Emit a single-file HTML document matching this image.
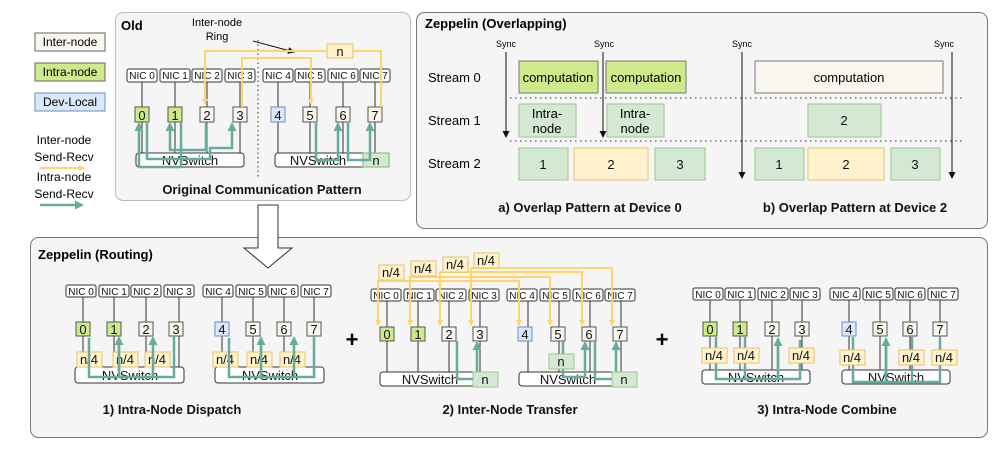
<!DOCTYPE html>
<html><head><meta charset="utf-8"><style>
body{margin:0;background:#fff;}
svg{display:block;font-family:"Liberation Sans",sans-serif;}
.nic{fill:#fff;stroke:#333;stroke-width:1;}
.nt{font-size:10px;text-anchor:middle;fill:#111;}
.g{stroke:#555;stroke-width:1;fill:#f9f7ed;}
.gt{font-size:13px;text-anchor:middle;fill:#111;}
.w{stroke:#333;stroke-width:1;fill:none;}
.y{stroke:#fdd56b;stroke-width:2;fill:none;}
.t{stroke:#67ab9f;stroke-width:2.5;fill:none;}
.yb{fill:#fff2cc;stroke:#e8c46a;}
.gb{fill:#d5e8d4;stroke:#9cc78d;}
.cap{font-size:13px;font-weight:bold;text-anchor:middle;fill:#111;}
.sw{fill:#fff;stroke:#333;}
.swt{font-size:13px;text-anchor:middle;fill:#111;}
</style></head><body>
<svg width="997" height="449" viewBox="0 0 997 449">
<defs>
<marker id="ay" markerWidth="6" markerHeight="6" refX="5" refY="3" orient="auto" markerUnits="userSpaceOnUse"><path d="M0,0 L6,3 L0,6 z" fill="#fdd56b"/></marker>
<marker id="at" markerWidth="9" markerHeight="9" refX="7" refY="4.5" orient="auto" markerUnits="userSpaceOnUse"><path d="M0,0 L9,4.5 L0,9 z" fill="#67ab9f"/></marker>
<marker id="ak" markerWidth="7" markerHeight="7" refX="6" refY="3.5" orient="auto" markerUnits="userSpaceOnUse"><path d="M0,0 L7,3.5 L0,7 z" fill="#111"/></marker>
</defs>

<!-- legend -->
<rect x="35" y="33" width="70" height="18" fill="#f9f7ed" stroke="#666"/><text x="70" y="46" font-size="12" text-anchor="middle">Inter-node</text>
<rect x="35" y="63" width="70" height="18" fill="#cdeb8b" stroke="#666"/><text x="70" y="76" font-size="12" text-anchor="middle">Intra-node</text>
<rect x="35" y="93" width="70" height="18" fill="#dae8fc" stroke="#6c8ebf"/><text x="70" y="106" font-size="12" text-anchor="middle">Dev-Local</text>
<text x="64" y="144" font-size="12" text-anchor="middle">Inter-node</text>
<text x="64" y="161" font-size="12" text-anchor="middle">Send-Recv</text>
<line x1="40" y1="168" x2="84" y2="168" class="y" marker-end="url(#ay)"/>
<text x="64" y="181" font-size="12" text-anchor="middle">Intra-node</text>
<text x="64" y="198" font-size="12" text-anchor="middle">Send-Recv</text>
<line x1="40" y1="205" x2="82" y2="205" class="t" marker-end="url(#at)"/>

<!-- panels -->
<rect x="115.5" y="12.5" width="295" height="188" rx="8" fill="#f5f5f5" stroke="#bbb"/>
<rect x="416.5" y="12.5" width="571" height="216" rx="8" fill="#f5f5f5" stroke="#777"/>
<rect x="30.5" y="237.5" width="957" height="200" rx="8" fill="#f5f5f5" stroke="#777"/>
<path d="M258,205 H278 V248 H292 L268,268 L244,248 H258 Z" fill="#fff" stroke="#333"/>

<!-- OLD -->
<text x="121" y="30" font-size="13" font-weight="bold">Old</text>
<text x="217" y="26" font-size="11" text-anchor="middle">Inter-node</text>
<text x="217" y="40" font-size="11" text-anchor="middle">Ring</text>
<line x1="253" y1="41" x2="294" y2="52" stroke="#111" marker-end="url(#ak)"/>
<line x1="258" y1="40" x2="258" y2="178" stroke="#333" stroke-dasharray="1.5,3"/>
<g>
<rect class="nic" x="127" y="69" width="30" height="13" rx="2"/><text class="nt" x="142" y="79">NIC 0</text>
<rect class="nic" x="160" y="69" width="30" height="13" rx="2"/><text class="nt" x="175" y="79">NIC 1</text>
<rect class="nic" x="192" y="69" width="30" height="13" rx="2"/><text class="nt" x="207" y="79">NIC 2</text>
<rect class="nic" x="225" y="69" width="30" height="13" rx="2"/><text class="nt" x="240" y="79">NIC 3</text>
<rect class="nic" x="263" y="69" width="30" height="13" rx="2"/><text class="nt" x="278" y="79">NIC 4</text>
<rect class="nic" x="295" y="69" width="30" height="13" rx="2"/><text class="nt" x="310" y="79">NIC 5</text>
<rect class="nic" x="328" y="69" width="30" height="13" rx="2"/><text class="nt" x="343" y="79">NIC 6</text>
<rect class="nic" x="360" y="69" width="30" height="13" rx="2"/><text class="nt" x="375" y="79">NIC 7</text>
<path class="w" d="M142,82V107M175,82V107M207,82V107M240,82V107M278,82V107M310,82V107M343,82V107M375,82V107M142,122V153M175,122V153M207,122V153M240,122V153M278,122V153M310,122V153M343,122V153M375,122V153"/>
<rect class="sw" x="136" y="153" width="108" height="14" rx="3"/><text class="swt" x="190" y="165">NVSwitch</text>
<rect class="sw" x="275" y="153" width="113" height="14" rx="3"/><text class="swt" x="318" y="165">NVSwitch</text>
<rect x="363" y="153" width="26" height="14" fill="#d5e8d4" stroke="#82b366"/><text class="swt" x="376" y="165">n</text>
<rect class="g" x="135" y="107" width="14" height="15" style="fill:#cdeb8b"/><text class="gt" x="142" y="120">0</text>
<rect class="g" x="168" y="107" width="14" height="15" style="fill:#cdeb8b"/><text class="gt" x="175" y="120">1</text>
<rect class="g" x="200" y="107" width="14" height="15"/><text class="gt" x="207" y="120">2</text>
<rect class="g" x="233" y="107" width="14" height="15"/><text class="gt" x="240" y="120">3</text>
<rect class="g" x="271" y="107" width="14" height="15" style="fill:#dae8fc;stroke:#6c8ebf"/><text class="gt" x="278" y="120">4</text>
<rect class="g" x="303" y="107" width="14" height="15"/><text class="gt" x="310" y="120">5</text>
<rect class="g" x="336" y="107" width="14" height="15"/><text class="gt" x="343" y="120">6</text>
<rect class="g" x="368" y="107" width="14" height="15"/><text class="gt" x="375" y="120">7</text>
<path class="y" d="M381,107V51H205V104" marker-end="url(#ay)"/>
<path class="y" d="M242,107V58H311V104" marker-end="url(#ay)"/>
<rect class="yb" x="327" y="44" width="26" height="14"/><text class="swt" x="340" y="56">n</text>
<path class="t" d="M147,123V159H210V148H232V124" marker-end="url(#at)"/>
<path class="t" d="M181,123V167H139V124" marker-end="url(#at)"/>
<path class="t" d="M206,123V150H170V124" marker-end="url(#at)"/>
<path class="t" d="M316,123V160H338V124" marker-end="url(#at)"/>
<path class="t" d="M348,123V160H370V124" marker-end="url(#at)"/>
</g>
<text class="cap" x="262" y="194">Original Communication Pattern</text>

<!-- OVERLAP -->
<text x="425" y="28" font-size="13" font-weight="bold">Zeppelin (Overlapping)</text>
<text x="428" y="82" font-size="13">Stream 0</text>
<text x="428" y="125" font-size="13">Stream 1</text>
<text x="428" y="168" font-size="13">Stream 2</text>
<text x="506" y="47" font-size="9" text-anchor="middle">Sync</text>
<text x="604" y="47" font-size="9" text-anchor="middle">Sync</text>
<text x="742" y="47" font-size="9" text-anchor="middle">Sync</text>
<text x="944" y="47" font-size="9" text-anchor="middle">Sync</text>
<path d="M510,98H962M510,141H962" stroke="#333" stroke-dasharray="1.5,3.5"/>
<line x1="506" y1="52" x2="506" y2="137" stroke="#111" marker-end="url(#ak)"/>
<line x1="603" y1="52" x2="603" y2="137" stroke="#111" marker-end="url(#ak)"/>
<line x1="742" y1="52" x2="742" y2="178" stroke="#111" marker-end="url(#ak)"/>
<line x1="952" y1="52" x2="952" y2="178" stroke="#111" marker-end="url(#ak)"/>
<rect x="519" y="61" width="79" height="32" fill="#cdeb8b" stroke="#777"/><text x="558" y="82" font-size="13" text-anchor="middle">computation</text>
<rect x="606" y="61" width="80" height="32" fill="#cdeb8b" stroke="#777"/><text x="646" y="82" font-size="13" text-anchor="middle">computation</text>
<rect class="gb" x="519" y="104" width="57" height="33"/><text x="547" y="118" font-size="13" text-anchor="middle">Intra-</text><text x="547" y="133" font-size="13" text-anchor="middle">node</text>
<rect class="gb" x="607" y="104" width="57" height="33"/><text x="635" y="118" font-size="13" text-anchor="middle">Intra-</text><text x="635" y="133" font-size="13" text-anchor="middle">node</text>
<rect class="gb" x="519" y="148" width="49" height="32"/><text class="swt" x="543" y="169">1</text>
<rect class="yb" x="574" y="148" width="74" height="32"/><text class="swt" x="611" y="169">2</text>
<rect class="gb" x="655" y="148" width="50" height="32"/><text class="swt" x="680" y="169">3</text>
<rect x="755" y="61" width="188" height="32" fill="#f9f7ed" stroke="#777"/><text x="849" y="82" font-size="13" text-anchor="middle">computation</text>
<rect class="gb" x="808" y="104" width="73" height="33"/><text class="swt" x="844" y="125">2</text>
<rect class="gb" x="755" y="148" width="49" height="32"/><text class="swt" x="779" y="169">1</text>
<rect class="yb" x="808" y="148" width="76" height="32"/><text class="swt" x="846" y="169">2</text>
<rect class="gb" x="891" y="148" width="49" height="32"/><text class="swt" x="915" y="169">3</text>
<text class="cap" x="590" y="212">a) Overlap Pattern at Device 0</text>
<text class="cap" x="855" y="212">b) Overlap Pattern at Device 2</text>

<!-- ROUTING -->
<text x="38" y="259" font-size="13" font-weight="bold">Zeppelin (Routing)</text>
<text x="352" y="347" font-size="22" font-weight="bold" text-anchor="middle">+</text>
<text x="662" y="347" font-size="22" font-weight="bold" text-anchor="middle">+</text>

<!-- section 1 -->
<g>
<rect class="nic" x="66" y="285" width="30" height="12" rx="2"/><text class="nt" x="81" y="295">NIC 0</text>
<rect class="nic" x="99" y="285" width="30" height="12" rx="2"/><text class="nt" x="114" y="295">NIC 1</text>
<rect class="nic" x="131" y="285" width="30" height="12" rx="2"/><text class="nt" x="146" y="295">NIC 2</text>
<rect class="nic" x="164" y="285" width="30" height="12" rx="2"/><text class="nt" x="179" y="295">NIC 3</text>
<rect class="nic" x="203" y="285" width="30" height="12" rx="2"/><text class="nt" x="218" y="295">NIC 4</text>
<rect class="nic" x="236" y="285" width="30" height="12" rx="2"/><text class="nt" x="251" y="295">NIC 5</text>
<rect class="nic" x="268" y="285" width="30" height="12" rx="2"/><text class="nt" x="283" y="295">NIC 6</text>
<rect class="nic" x="301" y="285" width="30" height="12" rx="2"/><text class="nt" x="316" y="295">NIC 7</text>
<path class="w" d="M83,297V322M114,297V322M146,297V322M179,297V322M222,297V322M253,297V322M284,297V322M314,297V322M83,336V367M114,336V367M146,336V367M179,336V367M222,336V367M253,336V367M284,336V367M314,336V367"/>
<rect class="sw" x="75" y="367" width="109" height="16" rx="3"/><text class="swt" x="130" y="380">NVSwitch</text>
<rect class="sw" x="215" y="367" width="109" height="16" rx="3"/><text class="swt" x="270" y="380">NVSwitch</text>
<rect class="g" x="76" y="322" width="14" height="14" style="fill:#cdeb8b"/><text class="gt" x="83" y="334">0</text>
<rect class="g" x="107" y="322" width="14" height="14" style="fill:#cdeb8b"/><text class="gt" x="114" y="334">1</text>
<rect class="g" x="139" y="322" width="14" height="14"/><text class="gt" x="146" y="334">2</text>
<rect class="g" x="169" y="322" width="14" height="14"/><text class="gt" x="176" y="334">3</text>
<rect class="g" x="215" y="322" width="14" height="14" style="fill:#dae8fc;stroke:#6c8ebf"/><text class="gt" x="222" y="334">4</text>
<rect class="g" x="246" y="322" width="14" height="14"/><text class="gt" x="253" y="334">5</text>
<rect class="g" x="277" y="322" width="14" height="14"/><text class="gt" x="284" y="334">6</text>
<rect class="g" x="307" y="322" width="14" height="14"/><text class="gt" x="314" y="334">7</text>
<rect class="yb" x="77" y="352" width="25" height="15"/><text class="swt" x="89" y="364">n/4</text>
<rect class="yb" x="113" y="352" width="25" height="15"/><text class="swt" x="125" y="364">n/4</text>
<rect class="yb" x="145" y="352" width="25" height="15"/><text class="swt" x="157" y="364">n/4</text>
<rect class="yb" x="213" y="352" width="25" height="15"/><text class="swt" x="225" y="364">n/4</text>
<rect class="yb" x="247" y="352" width="25" height="15"/><text class="swt" x="259" y="364">n/4</text>
<rect class="yb" x="280" y="352" width="25" height="15"/><text class="swt" x="292" y="364">n/4</text>
<path class="t" d="M174,336V377H89V338M119,377V338M153,377V338" marker-end="url(#at)"/>
<path class="t" d="M314,336V377H229V338M261,377V338M294,377V338" marker-end="url(#at)"/>
<path class="t" d="M119,377V338" marker-end="url(#at)"/>
<path class="t" d="M261,377V338" marker-end="url(#at)"/>
</g>
<text class="cap" x="172" y="414">1) Intra-Node Dispatch</text>

<!-- section 2 -->
<g>
<rect class="nic" x="371" y="289" width="30" height="12" rx="2"/><text class="nt" x="386" y="299">NIC 0</text>
<rect class="nic" x="404" y="289" width="30" height="12" rx="2"/><text class="nt" x="419" y="299">NIC 1</text>
<rect class="nic" x="436" y="289" width="30" height="12" rx="2"/><text class="nt" x="451" y="299">NIC 2</text>
<rect class="nic" x="469" y="289" width="30" height="12" rx="2"/><text class="nt" x="484" y="299">NIC 3</text>
<rect class="nic" x="507" y="289" width="30" height="12" rx="2"/><text class="nt" x="522" y="299">NIC 4</text>
<rect class="nic" x="540" y="289" width="30" height="12" rx="2"/><text class="nt" x="555" y="299">NIC 5</text>
<rect class="nic" x="573" y="289" width="30" height="12" rx="2"/><text class="nt" x="588" y="299">NIC 6</text>
<rect class="nic" x="605" y="289" width="30" height="12" rx="2"/><text class="nt" x="620" y="299">NIC 7</text>
<path class="w" d="M387,301V327M418,301V327M449,301V327M480,301V327M528,301V327M559,301V327M590,301V327M621,301V327M387,341V372M418,341V372M449,341V372M480,341V372M528,341V372M559,341V372M590,341V372M621,341V372"/>
<rect class="sw" x="380" y="372" width="118" height="14" rx="3"/><text class="swt" x="430" y="384">NVSwitch</text>
<rect class="sw" x="519" y="372" width="118" height="14" rx="3"/><text class="swt" x="568" y="384">NVSwitch</text>
<path class="y" d="M378,282V281H519V325" marker-end="url(#ay)"/>
<path class="y" d="M410,278V277H550V325" marker-end="url(#ay)"/>
<path class="y" d="M440,273V272H582V325" marker-end="url(#ay)"/>
<path class="y" d="M471,268V268H612V325" marker-end="url(#ay)"/>
<path class="y" d="M378,282V325" marker-end="url(#ay)"/>
<path class="y" d="M410,278V325" marker-end="url(#ay)"/>
<path class="y" d="M440,273V325" marker-end="url(#ay)"/>
<path class="y" d="M471,268V325" marker-end="url(#ay)"/>
<rect class="yb" x="379" y="265" width="25" height="15"/><text class="swt" x="391" y="277">n/4</text>
<rect class="yb" x="411" y="261" width="25" height="15"/><text class="swt" x="423" y="273">n/4</text>
<rect class="yb" x="443" y="257" width="25" height="15"/><text class="swt" x="455" y="269">n/4</text>
<rect class="yb" x="474" y="253" width="25" height="15"/><text class="swt" x="486" y="265">n/4</text>
<rect class="g" x="380" y="327" width="14" height="14" style="fill:#cdeb8b"/><text class="gt" x="387" y="339">0</text>
<rect class="g" x="411" y="327" width="14" height="14" style="fill:#cdeb8b"/><text class="gt" x="418" y="339">1</text>
<rect class="g" x="442" y="327" width="14" height="14"/><text class="gt" x="449" y="339">2</text>
<rect class="g" x="473" y="327" width="14" height="14"/><text class="gt" x="480" y="339">3</text>
<rect class="g" x="518" y="327" width="14" height="14" style="fill:#dae8fc;stroke:#6c8ebf"/><text class="gt" x="525" y="339">4</text>
<rect class="g" x="551" y="327" width="14" height="14"/><text class="gt" x="558" y="339">5</text>
<rect class="g" x="582" y="327" width="14" height="14"/><text class="gt" x="589" y="339">6</text>
<rect class="g" x="613" y="327" width="14" height="14"/><text class="gt" x="620" y="339">7</text>
<path class="t" d="M457,341V379H477V343" marker-end="url(#at)"/>
<path class="t" d="M563,341V377H585V343" marker-end="url(#at)"/>
<path class="t" d="M595,341V379H616V343" marker-end="url(#at)"/>
<rect x="473" y="372" width="25" height="15" fill="#d5e8d4" stroke="#9cc78d"/><text class="swt" x="485" y="384">n</text>
<rect x="612" y="372" width="25" height="15" fill="#d5e8d4" stroke="#9cc78d"/><text class="swt" x="624" y="384">n</text>
<rect x="549" y="354" width="25" height="15" fill="#d5e8d4" stroke="#9cc78d"/><text class="swt" x="561" y="366">n</text>
</g>
<text class="cap" x="510" y="414">2) Inter-Node Transfer</text>

<!-- section 3 -->
<g>
<rect class="nic" x="693" y="288" width="30" height="12" rx="2"/><text class="nt" x="708" y="298">NIC 0</text>
<rect class="nic" x="725" y="288" width="30" height="12" rx="2"/><text class="nt" x="740" y="298">NIC 1</text>
<rect class="nic" x="758" y="288" width="30" height="12" rx="2"/><text class="nt" x="773" y="298">NIC 2</text>
<rect class="nic" x="790" y="288" width="30" height="12" rx="2"/><text class="nt" x="805" y="298">NIC 3</text>
<rect class="nic" x="830" y="288" width="30" height="12" rx="2"/><text class="nt" x="845" y="298">NIC 4</text>
<rect class="nic" x="863" y="288" width="30" height="12" rx="2"/><text class="nt" x="878" y="298">NIC 5</text>
<rect class="nic" x="895" y="288" width="30" height="12" rx="2"/><text class="nt" x="910" y="298">NIC 6</text>
<rect class="nic" x="928" y="288" width="30" height="12" rx="2"/><text class="nt" x="943" y="298">NIC 7</text>
<path class="w" d="M710,300V322M740,300V322M772,300V322M802,300V322M849,300V322M880,300V322M910,300V322M940,300V322M710,336V370M740,336V370M772,336V370M802,336V370M849,336V370M880,336V370M910,336V370M940,336V370"/>
<rect class="sw" x="702" y="370" width="108" height="14" rx="3"/><text class="swt" x="756" y="382">NVSwitch</text>
<rect class="sw" x="842" y="370" width="108" height="14" rx="3"/><text class="swt" x="896" y="382">NVSwitch</text>
<rect class="g" x="703" y="322" width="14" height="14" style="fill:#cdeb8b"/><text class="gt" x="710" y="334">0</text>
<rect class="g" x="733" y="322" width="14" height="14" style="fill:#cdeb8b"/><text class="gt" x="740" y="334">1</text>
<rect class="g" x="765" y="322" width="14" height="14"/><text class="gt" x="772" y="334">2</text>
<rect class="g" x="795" y="322" width="14" height="14"/><text class="gt" x="802" y="334">3</text>
<rect class="g" x="842" y="322" width="14" height="14" style="fill:#dae8fc;stroke:#6c8ebf"/><text class="gt" x="849" y="334">4</text>
<rect class="g" x="873" y="322" width="14" height="14"/><text class="gt" x="880" y="334">5</text>
<rect class="g" x="903" y="322" width="14" height="14"/><text class="gt" x="910" y="334">6</text>
<rect class="g" x="933" y="322" width="14" height="14"/><text class="gt" x="940" y="334">7</text>
<path class="t" d="M716,337V379H800V340M745,337V379M778,379V339" />
<path class="t" d="M778,379V339" marker-end="url(#at)"/>
<path class="t" d="M853,337V382H940V340M912,337V382M886,382V339"/>
<path class="t" d="M886,382V339" marker-end="url(#at)"/>
<rect class="yb" x="702" y="348" width="25" height="15"/><text class="swt" x="714" y="360">n/4</text>
<rect class="yb" x="734" y="348" width="25" height="15"/><text class="swt" x="746" y="360">n/4</text>
<rect class="yb" x="789" y="348" width="25" height="15"/><text class="swt" x="801" y="360">n/4</text>
<rect class="yb" x="840" y="350" width="25" height="15"/><text class="swt" x="852" y="362">n/4</text>
<rect class="yb" x="899" y="350" width="25" height="15"/><text class="swt" x="911" y="362">n/4</text>
<rect class="yb" x="932" y="350" width="25" height="15"/><text class="swt" x="944" y="362">n/4</text>
</g>
<text class="cap" x="827" y="414">3) Intra-Node Combine</text>
</svg>
</body></html>
